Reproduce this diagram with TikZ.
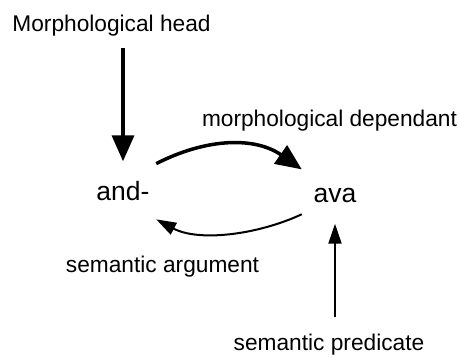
\documentclass[tikz,border=0pt]{standalone}
\usepackage{fontspec}
\setmainfont{Liberation Sans}
\usetikzlibrary{arrows.meta}

\begin{document}
\begin{tikzpicture}[x=1pt, y=-1pt,
  word/.style={inner sep=0pt, anchor=base, minimum width=66pt, minimum height=60pt,
    text height=19pt, text depth=0pt, font=\fontsize{26.5}{30}\selectfont},
  role/.style={inner sep=0pt, anchor=base, font=\fontsize{22.7}{26}\selectfont},
  bigarrow/.style={line width=3.5pt, -{Triangle[length=26pt,width=22pt]}},
  smallarrow/.style={line width=2pt, -{Triangle[length=20pt,width=13pt]}}]
\useasboundingbox (0,0) rectangle (459,358);
\node[word] (and) at (123,201) {and-};
\node[word] (ava) at (335,203) {ava};
\node[role] (head) at (111.5,31.7) {Morphological head};
\node[role] (dep) at (329.5,126.7) {morphological dependant};
\node[role] (arg) at (162.5,273) {semantic argument};
\node[role] (pred) at (329,351) {semantic predicate};
\draw[bigarrow, shorten <=11.7pt] (head.south -| and.north) -- (and.north);
\draw[bigarrow] (and.40) to[out=27, in=145] (ava.144);
\draw[smallarrow] (ava.212) to[out=205, in=-28, looseness=0.85] (and.-40);
\draw[smallarrow, shorten <=17pt] (pred.north -| ava.south) -- (ava.south);
\end{tikzpicture}
\end{document}
